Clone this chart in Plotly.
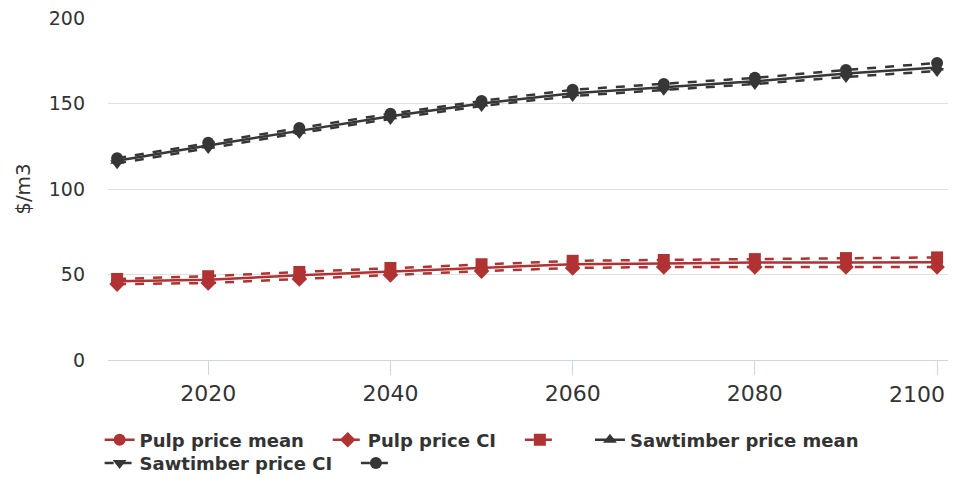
import plotly.graph_objects as go

years = [2010, 2020, 2030, 2040, 2050, 2060, 2070, 2080, 2090, 2100]
x_ticks = [2020, 2040, 2060, 2080, 2100]
x_tick_labels = ["2020", "2040", "2060", "2080", ""]
last_tick = [2100]
last_tick_label = ["2100"]

pulp_mean = [46.0, 47.0, 49.5, 51.7, 54.0, 56.0, 56.5, 57.0, 57.0, 57.2]
pulp_ci_low = [44.4, 45.0, 47.4, 49.7, 52.0, 53.8, 54.4, 54.4, 54.4, 54.4]
pulp_ci_high = [47.4, 49.0, 51.5, 53.8, 56.0, 58.0, 58.5, 59.0, 59.6, 60.0]

saw_mean = [116.5, 125.5, 134.0, 142.5, 150.0, 156.0, 159.5, 163.0, 167.5, 171.0]
saw_ci_low = [115.0, 124.0, 132.7, 141.0, 148.5, 154.4, 158.0, 161.4, 165.5, 169.0]
saw_ci_high = [118.0, 127.0, 135.7, 144.0, 151.5, 158.0, 161.4, 165.0, 169.6, 173.7]

RED = "#B03232"
DARK = "#363636"
PAD = "\u00a0"

series = [
    ("Pulp price mean" + PAD * 3, pulp_mean, RED, "solid", "circle", "legend", "x"),
    ("Pulp price CI" + PAD * 3, pulp_ci_low, RED, "dash", "diamond", "legend", "x"),
    (PAD * 4, pulp_ci_high, RED, "dash", "square", "legend", "x"),
    ("Sawtimber price mean", saw_mean, DARK, "solid", "triangle-up", "legend", "x"),
    ("Sawtimber price CI" + PAD * 3, saw_ci_low, DARK, "dash", "triangle-down", "legend2", "x"),
    ("", saw_ci_high, DARK, "dash", "circle", "legend2", "x2"),
]

fig = go.Figure()
for name, vals, color, dash, sym, lg, xa in series:
    fig.add_trace(go.Scatter(
        x=years, y=vals, name=name, mode="lines+markers",
        line=dict(color=color, width=2.5, dash=dash),
        marker=dict(symbol=sym, size=12, color=color),
        legend=lg, xaxis=xa, yaxis="y",
    ))

legend_font = dict(size=18, color="#333333", family="DejaVu Sans", weight="bold")

fig.update_layout(
    width=955, height=478,
    margin=dict(l=108, r=7, t=18, b=118, autoexpand=False),
    plot_bgcolor="white", paper_bgcolor="white",
    font=dict(family="DejaVu Sans", color="#333333"),
    showlegend=True,
    legend=dict(
        orientation="h", x=-0.01, xanchor="left", y=-0.18, yanchor="top",
        font=legend_font, itemwidth=30, traceorder="normal",
        bgcolor="rgba(0,0,0,0)",
    ),
    legend2=dict(
        orientation="h", x=-0.01, xanchor="left", y=-0.248, yanchor="top",
        font=legend_font, itemwidth=30, traceorder="normal",
        bgcolor="rgba(0,0,0,0)",
    ),
    xaxis=dict(
        range=[2009, 2101.2],
        tickvals=x_ticks, ticktext=x_tick_labels,
        ticks="outside", ticklen=14, tickcolor="#ccd6eb",
        showline=True, linecolor="#ccd6eb", linewidth=1,
        showgrid=False, zeroline=False,
        tickfont=dict(size=22, color="#333333"),
    ),
    xaxis2=dict(
        matches="x", overlaying="x", anchor="y", side="bottom",
        range=[2009, 2101.2],
        tickvals=last_tick, ticktext=last_tick_label,
        ticks="", showline=False, showgrid=False, zeroline=False,
        ticklabelshift=-20, ticklabelstandoff=19,
        ticklabeloverflow="allow",
        tickfont=dict(size=22, color="#333333"),
    ),
    yaxis=dict(
        range=[0, 200],
        tickvals=[0, 50, 100, 150, 200],
        showgrid=True, gridcolor="#e0e0e0", gridwidth=1,
        zeroline=False, showline=False,
        tickfont=dict(size=19, color="#333333"),
        ticklabelstandoff=22,
        title=dict(text="$/m3", font=dict(size=20, color="#333333"), standoff=12),
    ),
)

fig.write_html("out.html")
